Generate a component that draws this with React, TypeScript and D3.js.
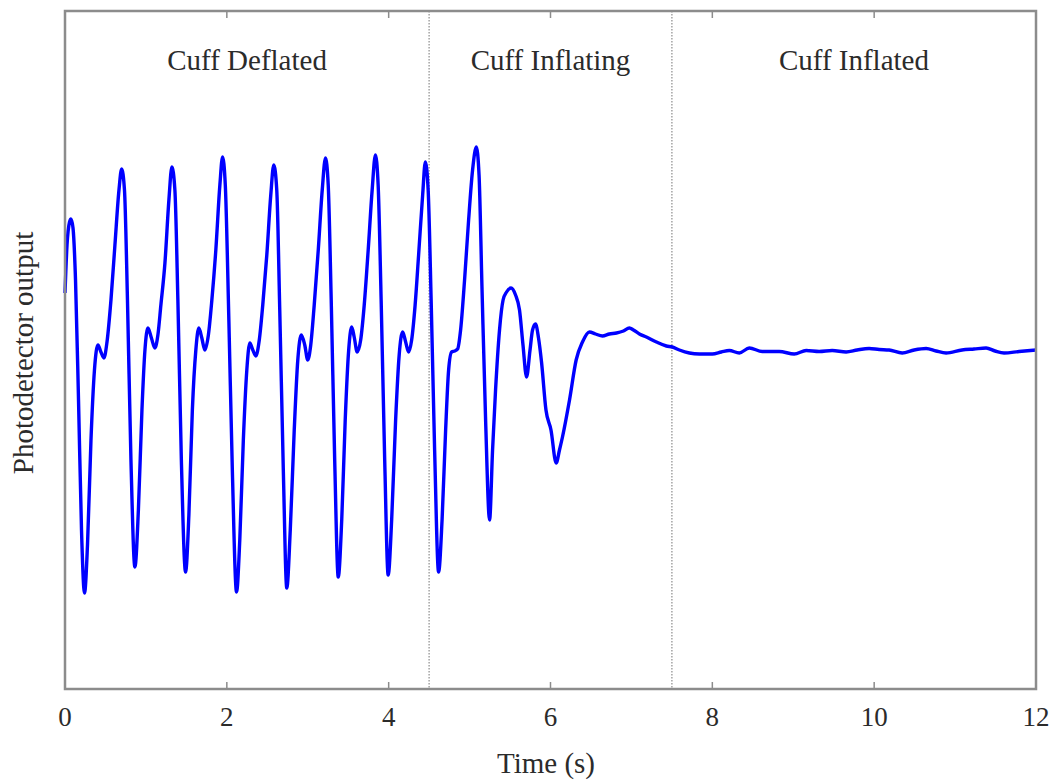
import React from "react";
import * as d3 from "d3";

// Time (s)
const time: number[] = [
  0, 0.025, 0.056, 0.074, 0.099, 0.13, 0.167, 0.204, 0.241, 0.278, 0.321, 0.364, 0.407, 0.444, 0.481, 0.519, 0.568, 0.617, 0.667, 0.7,
  0.735, 0.772, 0.815, 0.864, 0.907, 0.951, 0.988, 1.025, 1.068, 1.111, 1.148, 1.185, 1.235, 1.284, 1.321,
  1.358, 1.395, 1.438, 1.49, 1.531, 1.574, 1.617, 1.654, 1.691, 1.728, 1.772, 1.815, 1.864, 1.914, 1.947,
  1.981, 2.025, 2.068, 2.12, 2.16, 2.204, 2.247, 2.284, 2.321, 2.358, 2.401, 2.444, 2.494, 2.543, 2.58,
  2.617, 2.654, 2.698, 2.741, 2.784, 2.833, 2.877, 2.92, 2.963, 3.0, 3.037, 3.08, 3.13, 3.179, 3.219,
  3.253, 3.29, 3.333, 3.377, 3.42, 3.463, 3.506, 3.543, 3.574, 3.611, 3.654, 3.698, 3.747, 3.796, 3.836,
  3.87, 3.907, 3.951, 3.994, 4.037, 4.086, 4.13, 4.173, 4.21, 4.247, 4.284, 4.327, 4.37, 4.42, 4.453,
  4.488, 4.525, 4.568, 4.617, 4.66, 4.704, 4.741, 4.778, 4.815, 4.852, 4.889, 4.938, 4.988, 5.037, 5.083,
  5.117, 5.154, 5.198, 5.247, 5.284, 5.321, 5.37, 5.414, 5.457, 5.512, 5.568, 5.617, 5.66, 5.704, 5.747,
  5.778, 5.815, 5.852, 5.889, 5.944, 6.006, 6.07, 6.111, 6.148, 6.235, 6.317, 6.395, 6.481, 6.556, 6.642,
  6.728, 6.815, 6.901, 6.975, 7.025, 7.099, 7.185, 7.309, 7.432, 7.506, 7.593, 7.716, 7.84, 8.0, 8.111,
  8.21, 8.333, 8.457, 8.617, 8.827, 9.012, 9.16, 9.321, 9.481, 9.654, 9.79, 9.938, 10.062, 10.185, 10.346,
  10.494, 10.642, 10.765, 10.889, 11.086, 11.235, 11.383, 11.494, 11.605, 11.79, 12.0,
];

// Photodetector output (arbitrary units)
const signal: number[] = [
  3.96, 4.44, 4.67, 4.7, 4.61, 4.09, 2.89, 1.59, 0.96, 1.44, 2.49, 3.19, 3.44, 3.37, 3.31, 3.47, 3.89, 4.44, 4.99, 5.2,
  4.99, 3.89, 2.29, 1.22, 1.79, 2.79, 3.39, 3.61, 3.51, 3.41, 3.54, 3.84, 4.26, 4.89, 5.22,
  4.99, 3.89, 2.29, 1.17, 1.74, 2.79, 3.39, 3.61, 3.51, 3.39, 3.54, 3.89, 4.39, 5.04, 5.32,
  5.04, 3.69, 2.19, 0.97, 1.49, 2.49, 3.19, 3.46, 3.39, 3.33, 3.49, 3.84, 4.34, 4.94, 5.24,
  4.99, 3.79, 2.19, 1.01, 1.59, 2.59, 3.29, 3.54, 3.44, 3.29, 3.44, 3.84, 4.39, 4.99, 5.31,
  5.04, 3.89, 2.29, 1.12, 1.69, 2.69, 3.39, 3.62, 3.52, 3.37, 3.49, 3.84, 4.39, 4.99, 5.34,
  5.04, 3.89, 2.29, 1.14, 1.69, 2.69, 3.34, 3.57, 3.47, 3.37, 3.49, 3.84, 4.34, 4.94, 5.27,
  4.99, 3.89, 2.39, 1.17, 1.69, 2.59, 3.19, 3.37, 3.38, 3.4, 3.59, 4.09, 4.69, 5.19, 5.42,
  5.14, 3.99, 2.69, 1.69, 2.39, 2.99, 3.59, 3.89, 3.97, 4.01, 3.94, 3.79, 3.44, 3.12, 3.39,
  3.59, 3.65, 3.51, 3.27, 2.79, 2.59, 2.26, 2.39, 2.52, 2.89, 3.29, 3.47, 3.57, 3.55, 3.53,
  3.55, 3.56, 3.58, 3.61, 3.59, 3.55, 3.52, 3.47, 3.43, 3.42, 3.39, 3.36, 3.35, 3.35, 3.37,
  3.385, 3.36, 3.41, 3.375, 3.375, 3.35, 3.385, 3.375, 3.385, 3.37, 3.39, 3.405, 3.395, 3.39, 3.36,
  3.39, 3.405, 3.38, 3.36, 3.39, 3.4, 3.41, 3.38, 3.36, 3.375, 3.39,
];

const xTicks: number[] = [0, 2, 4, 6, 8, 10, 12];
const phaseBounds: number[] = [4.5, 7.5];
const phaseLabels: string[] = ["Cuff Deflated", "Cuff Inflating", "Cuff Inflated"];
const phaseStarts: number[] = [0, 4.5, 7.5];
const phaseEnds: number[] = [4.5, 7.5, 12];

const W = 1058;
const H = 782;
const left = 65;
const right = 1036;
const top = 11;
const bottom = 689;
const FONT = "'Liberation Serif', 'Times New Roman', serif";

export default function App() {
  const x = d3.scaleLinear().domain([0, 12]).range([left, right]);
  const y = d3.scaleLinear().domain([0, 6.78]).range([bottom, top]);
  const pts: [number, number][] = time.map((t, i) => [t, signal[i]]);
  const line = d3
    .line<[number, number]>()
    .x((d) => x(d[0]))
    .y((d) => y(d[1]))
    .curve(d3.curveMonotoneX);
  const frameColor = "#8c8c8c";
  const textColor = "#2b2b2b";

  return (
    <svg
      width={W}
      height={H}
      style={{ position: "absolute", left: 0, top: 0, background: "#fff" }}
    >
      <rect x={0} y={0} width={W} height={H} fill="#fff" />
      {phaseBounds.map((b) => (
        <line
          key={b}
          x1={x(b)}
          x2={x(b)}
          y1={top}
          y2={bottom}
          stroke="#a8a8a8"
          strokeWidth={1.6}
          strokeDasharray="1.5,1.5"
        />
      ))}
      <path d={line(pts) || ""} fill="none" stroke="#0000ff" strokeWidth={3.4} strokeLinejoin="round" />
      <rect
        x={left}
        y={top}
        width={right - left}
        height={bottom - top}
        fill="none"
        stroke={frameColor}
        strokeWidth={2.5}
      />
      {xTicks
        .filter((t) => t > 0 && t < 12)
        .map((t) => (
          <g key={"tk" + t}>
            <line x1={x(t)} x2={x(t)} y1={bottom} y2={bottom - 7} stroke={frameColor} strokeWidth={1.5} />
            <line x1={x(t)} x2={x(t)} y1={top} y2={top + 7} stroke={frameColor} strokeWidth={1.5} />
          </g>
        ))}
      {xTicks.map((t) => (
        <text
          key={"lb" + t}
          x={x(t)}
          y={726}
          textAnchor="middle"
          fontFamily={FONT}
          fontSize={27}
          fill={textColor}
        >
          {t}
        </text>
      ))}
      {phaseLabels.map((lab, i) => (
        <text
          key={lab}
          x={x((phaseStarts[i] + phaseEnds[i]) / 2)}
          y={70}
          textAnchor="middle"
          fontFamily={FONT}
          fontSize={29}
          fill={textColor}
        >
          {lab}
        </text>
      ))}
      <text x={546} y={773} textAnchor="middle" fontFamily={FONT} fontSize={29} fill={textColor}>
        Time (s)
      </text>
      <text
        transform={`translate(33, 353) rotate(-90)`}
        textAnchor="middle"
        fontFamily={FONT}
        fontSize={29}
        fill={textColor}
      >
        Photodetector output
      </text>
    </svg>
  );
}
